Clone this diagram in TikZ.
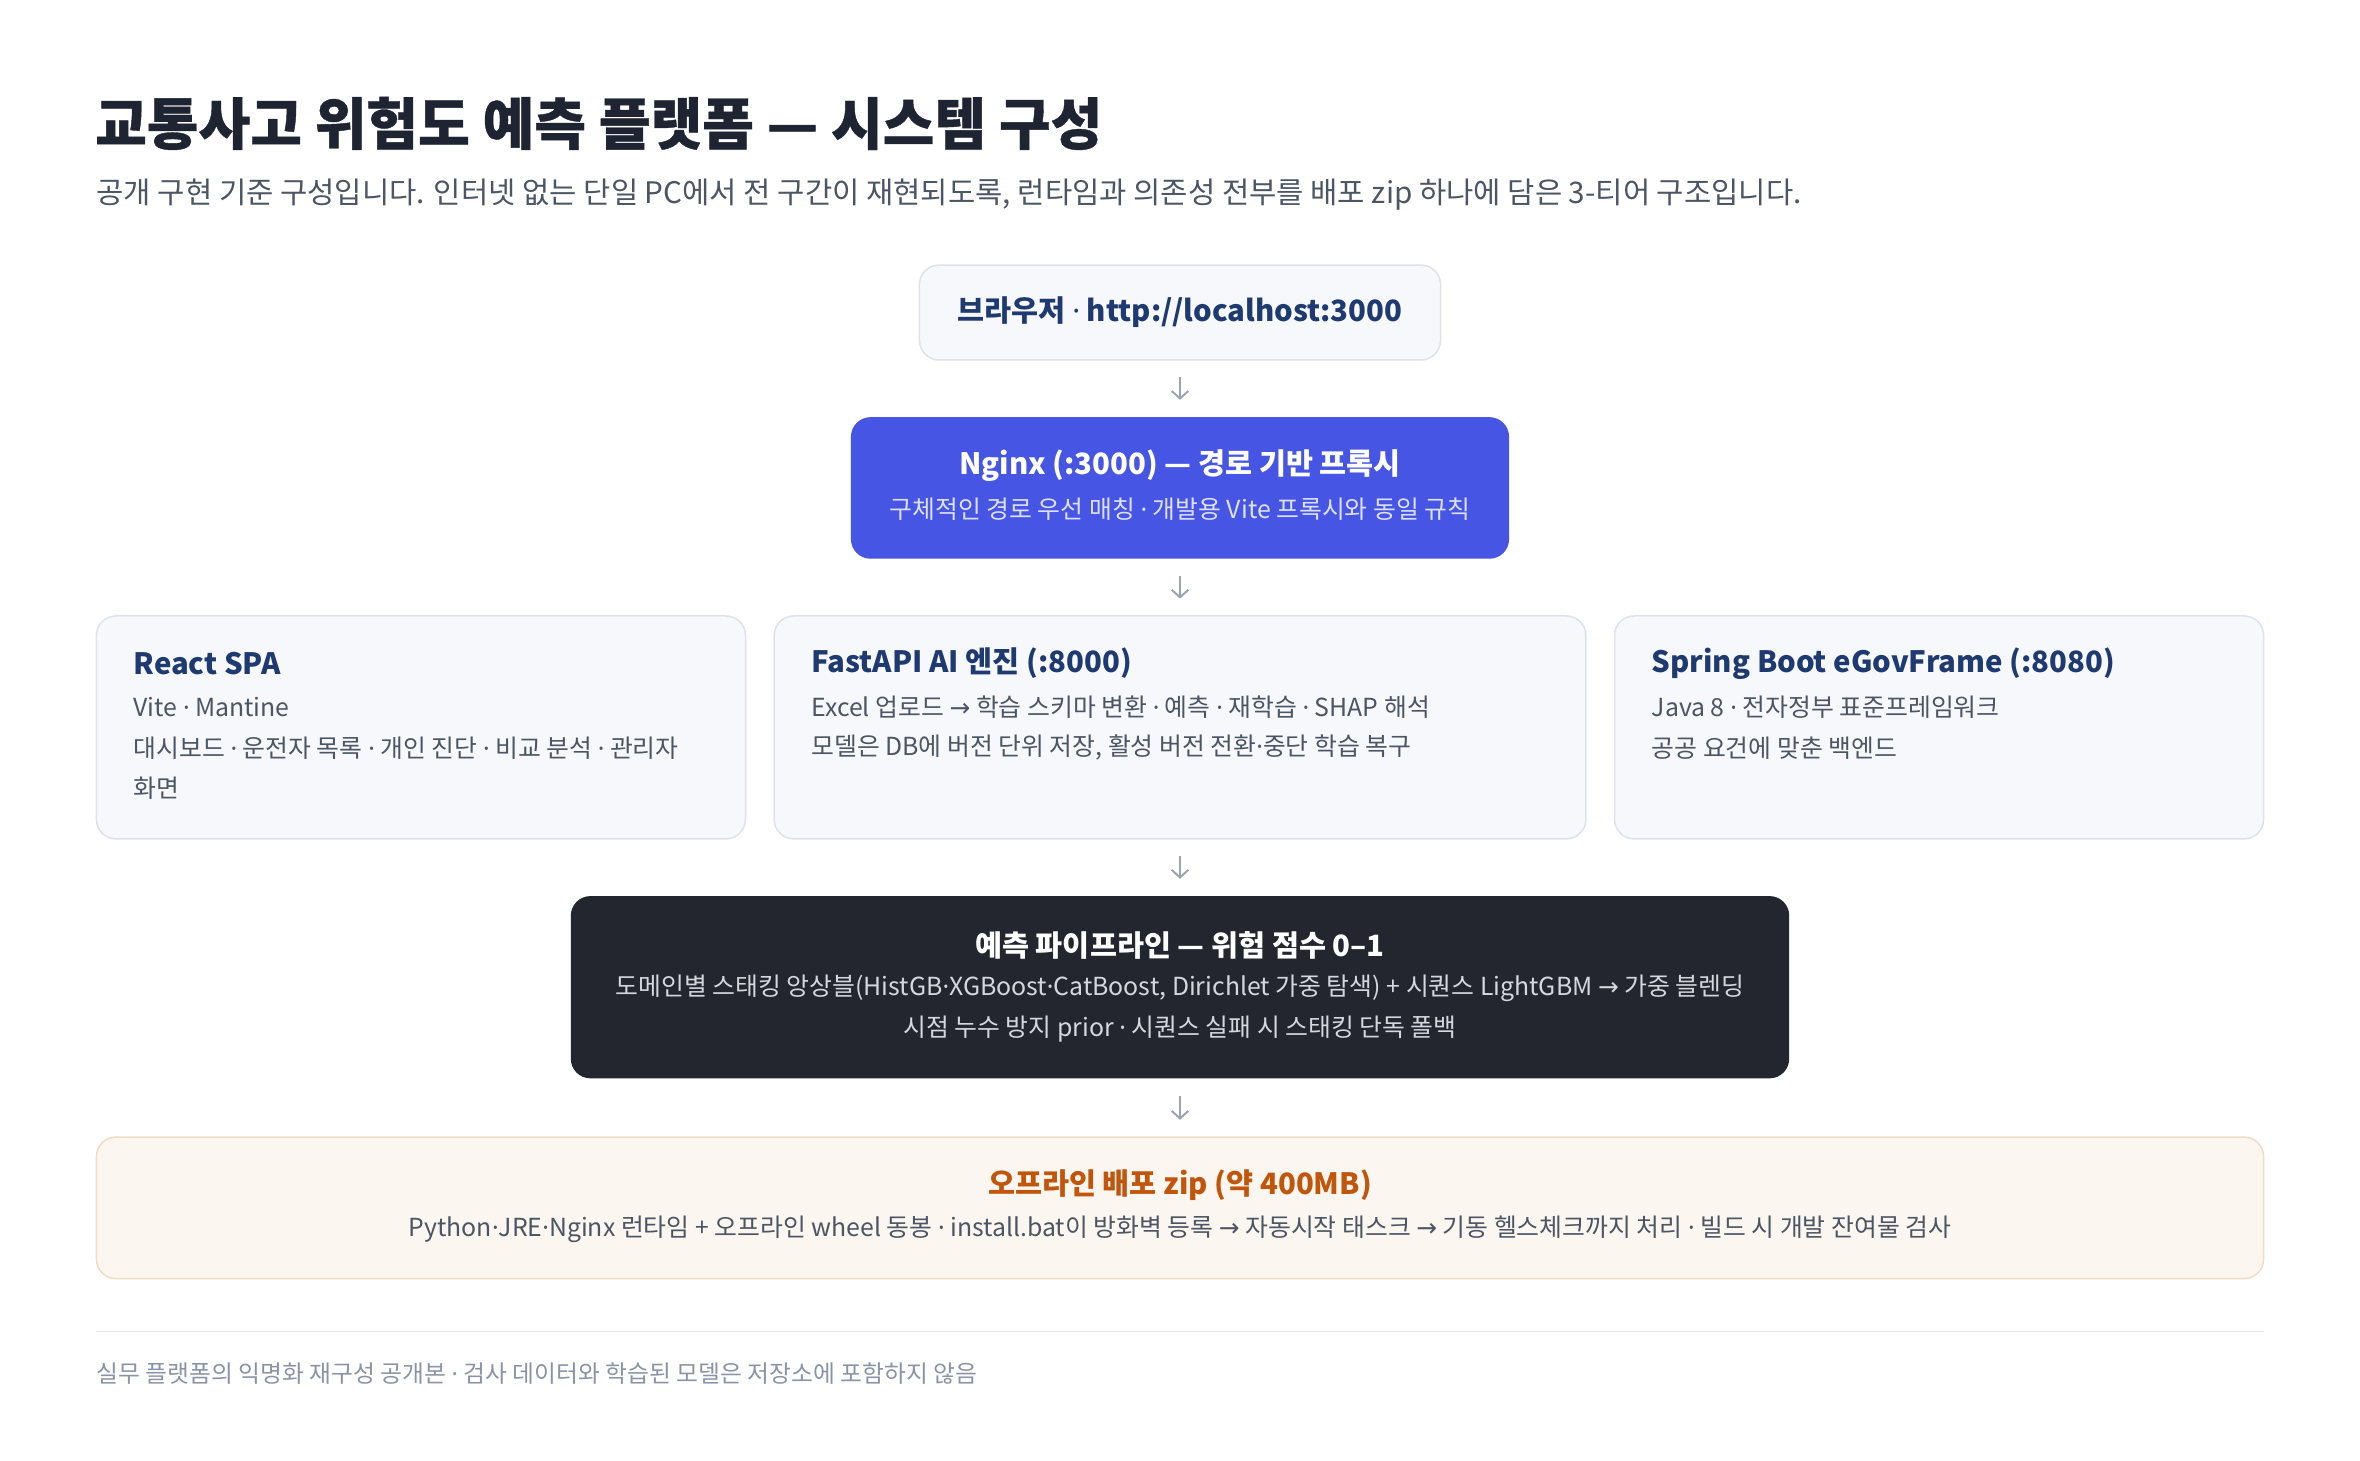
\documentclass[tikz,border=0pt]{standalone}
\usepackage{fontspec}
\setmainfont{Noto Sans CJK KR}
\newfontfamily\heavyfont{Noto Sans CJK KR}[BoldFeatures={FakeBold=0.7}]
\newfontfamily\symfont{Noto Sans}
\newfontfamily\arrowfont{DejaVu Sans}
\newcommand{\mdot}{{\symfont\char"00B7}}
\newcommand{\rarr}{{\arrowfont\char"2192}}
\usetikzlibrary{arrows.meta}

\definecolor{ink}{HTML}{1F2433}
\definecolor{subgray}{HTML}{4B5563}
\definecolor{navy}{HTML}{1E3A70}
\definecolor{cardfill}{HTML}{F7F8FC}
\definecolor{cardline}{HTML}{DDE2EC}
\definecolor{indigo}{HTML}{4755E4}
\definecolor{lavender}{HTML}{DDE1FF}
\definecolor{darkbox}{HTML}{23262F}
\definecolor{paleink}{HTML}{D4D7DE}
\definecolor{zipfill}{HTML}{FBF6F0}
\definecolor{zipline}{HTML}{F1DDC6}
\definecolor{rust}{HTML}{C2550C}
\definecolor{arrowgray}{HTML}{9AA3B4}
\definecolor{rulegray}{HTML}{E5E7EB}
\definecolor{footgray}{HTML}{8A93A5}

\begin{document}
\begin{tikzpicture}[x=1pt, y=1pt,
    panel/.style={rounded corners=13pt, line width=1pt, inner sep=0pt},
    card/.style={panel, draw=cardline, fill=cardfill, minimum height=148pt},
    cardtitle/.style={anchor=west, inner sep=0pt, text=navy, font=\fontsize{19.5}{24}\selectfont\bfseries},
    cardtext/.style={anchor=west, inner sep=0pt, text=subgray, font=\fontsize{16.5}{20}\selectfont},
    headtext/.style={inner sep=0pt, font=\fontsize{19.5}{24}\selectfont\bfseries},
    bodytext/.style={inner sep=0pt, font=\fontsize{16.5}{20}\selectfont},
    flow/.style={-{Straight Barb[length=5pt,width=11pt]}, draw=arrowgray, line width=1.3pt,
        shorten <=11pt, shorten >=11pt}]
    \useasboundingbox (0,-4.6) rectangle (1567,965);

    % heading
    \node[anchor=base west, inner sep=0pt, text=ink, font=\fontsize{37.3}{44}\selectfont\heavyfont\bfseries]
        (title) at (63,869) {교통사고 위험도 예측 플랫폼 — 시스템 구성};
    \node[anchor=base west, inner sep=0pt, text=subgray, font=\fontsize{19.7}{23}\selectfont]
        (intro) at (64,830) {공개 구현 기준 구성입니다. 인터넷 없는 단일 PC에서 전 구간이 재현되도록, 런타임과 의존성 전부를 배포 zip 하나에 담은 3-티어 구조입니다.};

    % browser
    \node[panel, draw=cardline, fill=cardfill, minimum width=346pt, minimum height=63pt]
        (browser) at (783.5,757.5) {};
    \node[headtext, text=navy] at (browser.center) {브라우저 \mdot{} http://localhost:3000};

    % reverse proxy
    \node[panel, fill=indigo, minimum width=437pt, minimum height=94pt] (nginx) at (783.5,641) {};
    \node[headtext, text=white] at ([yshift=15pt]nginx.center) {Nginx (:3000) — 경로 기반 프록시};
    \node[bodytext, text=lavender] at ([yshift=-14pt]nginx.center) {구체적인 경로 우선 매칭 \mdot{} 개발용 Vite 프록시와 동일 규칙};

    % three tiers
    \node[card, minimum width=431pt] (react) at (279.5,482) {};
    \node[card, minimum width=539pt] (fastapi) at (783.5,482) {};
    \node[card, minimum width=431pt] (spring) at (1287.5,482) {};

    \node[cardtitle] at ([shift={(25,-32)}]react.north west) {React SPA};
    \node[cardtext] at ([shift={(25,-61)}]react.north west) {Vite \mdot{} Mantine};
    \node[cardtext] at ([shift={(25,-88)}]react.north west) {대시보드 \mdot{} 운전자 목록 \mdot{} 개인 진단 \mdot{} 비교 분석 \mdot{} 관리자};
    \node[cardtext] at ([shift={(25,-115)}]react.north west) {화면};

    \node[cardtitle] at ([shift={(25,-32)}]fastapi.north west) {FastAPI AI 엔진 (:8000)};
    \node[cardtext] at ([shift={(25,-61)}]fastapi.north west) {Excel 업로드 \rarr{} 학습 스키마 변환 \mdot{} 예측 \mdot{} 재학습 \mdot{} SHAP 해석};
    \node[cardtext] at ([shift={(25,-88)}]fastapi.north west) {모델은 DB에 버전 단위 저장, 활성 버전 전환\mdot{}중단 학습 복구};

    \node[cardtitle] at ([shift={(25,-32)}]spring.north west) {Spring Boot eGovFrame (:8080)};
    \node[cardtext] at ([shift={(25,-61)}]spring.north west) {Java 8 \mdot{} 전자정부 표준프레임워크};
    \node[cardtext] at ([shift={(25,-88)}]spring.north west) {공공 요건에 맞춘 백엔드};

    % pipeline
    \node[panel, fill=darkbox, minimum width=809pt, minimum height=121pt] (pipeline) at (783.5,309.5) {};
    \node[headtext, text=white] at ([yshift=28pt]pipeline.center) {예측 파이프라인 — 위험 점수 0–1};
    \node[bodytext, text=paleink] at ([yshift=-1pt]pipeline.center) {도메인별 스태킹 앙상블(HistGB\mdot{}XGBoost\mdot{}CatBoost, Dirichlet 가중 탐색) + 시퀀스 LightGBM \rarr{} 가중 블렌딩};
    \node[bodytext, text=paleink] at ([yshift=-28pt]pipeline.center) {시점 누수 방지 prior \mdot{} 시퀀스 실패 시 스태킹 단독 폴백};

    % offline bundle
    \node[panel, draw=zipline, fill=zipfill, minimum width=1439pt, minimum height=94pt] (bundle) at (783.5,163) {};
    \node[headtext, text=rust] at ([yshift=15pt]bundle.center) {오프라인 배포 zip (약 400MB)};
    \node[bodytext, text=subgray] at ([yshift=-14pt]bundle.center) {Python\mdot{}JRE\mdot{}Nginx 런타임 + 오프라인 wheel 동봉 \mdot{} install.bat이 방화벽 등록 \rarr{} 자동시작 태스크 \rarr{} 기동 헬스체크까지 처리 \mdot{} 빌드 시 개발 잔여물 검사};

    \draw[flow] (browser.south) -- (nginx.north);
    \draw[flow] (nginx.south) -- (fastapi.north);
    \draw[flow] (fastapi.south) -- (pipeline.north);
    \draw[flow] (pipeline.south) -- (bundle.north);

    % footer
    \coordinate (ruleL) at (64,81);
    \coordinate (ruleR) at (1503,81);
    \draw[rulegray, line width=1pt] (ruleL) -- (ruleR);
    \node[anchor=base west, inner sep=0pt, text=footgray, font=\fontsize{15.8}{19}\selectfont]
        (note) at (64,47) {실무 플랫폼의 익명화 재구성 공개본 \mdot{} 검사 데이터와 학습된 모델은 저장소에 포함하지 않음};
\end{tikzpicture}
\end{document}
